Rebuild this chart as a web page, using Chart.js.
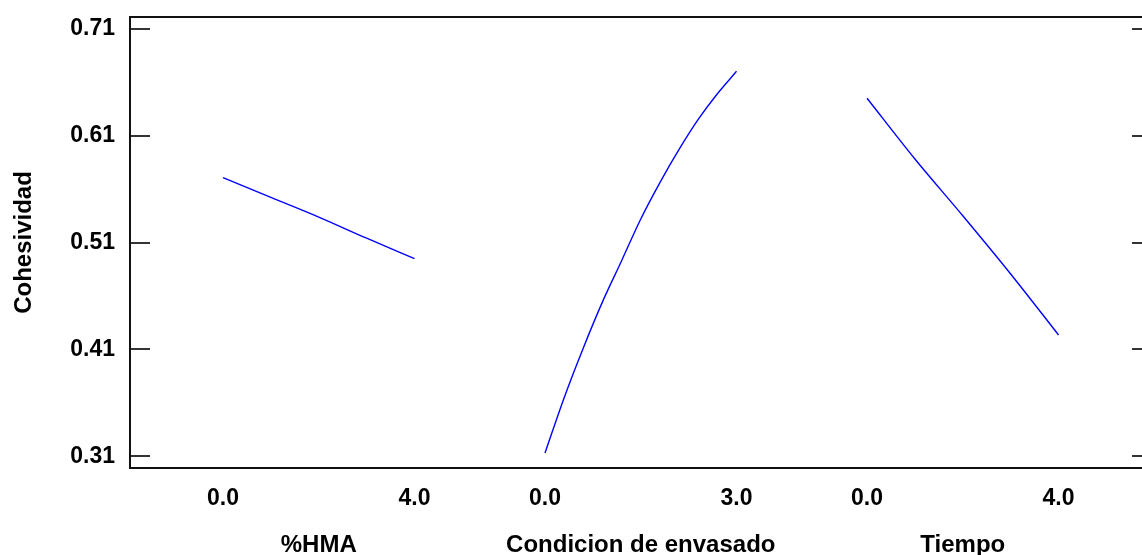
<!DOCTYPE html>
<html><head><meta charset="utf-8">
<script src="https://cdn.jsdelivr.net/npm/chart.js@4"></script>
<style>
html,body{margin:0;padding:0;background:#fff;overflow:hidden;width:1142px;height:555px}
#wrap{position:absolute;left:0;top:0;width:1160px;height:555px}
</style>
</head><body><div id="wrap"><canvas id="c"></canvas></div>
<script>
// ---- data ----
const factorNames = ['%HMA', 'Condicion de envasado', 'Tiempo'];
const lowLabels = ['0.0', '0.0', '0.0'];
const highLabels = ['4.0', '3.0', '4.0'];
const yTickValues = [0.31, 0.41, 0.51, 0.61, 0.71];

const hmaLevels = [0, 1, 2, 3, 4];
const hmaValues = [0.5706, 0.5522, 0.5338, 0.5140, 0.4949];

const condLevels = [0, 0.3, 0.6, 0.9, 1.2, 1.5, 1.8, 2.1, 2.4, 2.7, 3.0];
const condValues = [0.3133, 0.3650, 0.4115, 0.4545, 0.4930, 0.5320, 0.5660, 0.5970, 0.6250, 0.6490, 0.6700];

const tiempoLevels = [0, 1, 2, 3, 4];
const tiempoValues = [0.6448, 0.5880, 0.5350, 0.4806, 0.4236];

// ---- layout of the factor slots on the shared x scale ----
const groupStart = [0, 1.6815, 3.363];
const groupRange = [4, 3, 4];
const X_MIN = -0.4856, X_MAX = 4.851;
const Y_MIN = 0.29925, Y_MAX = 0.72075;

function toPoints(g, levels, values) {
  return levels.map((l, i) => ({ x: groupStart[g] + l / groupRange[g], y: values[i] }));
}

const xTickPos = [];
const xTickText = [];
for (let g = 0; g < 3; g++) {
  xTickPos.push(groupStart[g]); xTickText.push(lowLabels[g]);
  xTickPos.push(groupStart[g] + 1); xTickText.push(highLabels[g]);
}

const FONT = "'Liberation Sans', Arial, sans-serif";

const framePlugin = {
  id: 'frame',
  afterDraw(chart) {
    const { ctx, chartArea: a, scales } = chart;
    ctx.save();
    ctx.strokeStyle = '#333';
    ctx.lineWidth = 1.8;
    yTickValues.forEach(v => {
      const y = Math.round(scales.y.getPixelForValue(v));
      ctx.beginPath();
      ctx.moveTo(a.left, y); ctx.lineTo(a.left + 20, y);
      ctx.moveTo(a.right - 20, y); ctx.lineTo(a.right, y);
      ctx.stroke();
    });
    ctx.strokeStyle = '#111';
    ctx.lineWidth = 2;
    ctx.strokeRect(a.left, a.top, a.right - a.left, a.bottom - a.top);
    ctx.fillStyle = '#000';
    ctx.font = "bold 24px " + FONT;
    ctx.textAlign = 'center';
    ctx.textBaseline = 'alphabetic';
    factorNames.forEach((n, g) => {
      const x = scales.x.getPixelForValue(groupStart[g] + 0.5);
      ctx.fillText(n, x, 552);
    });
    ctx.restore();
  }
};

function zeroPad(s) { s.paddingTop = 0; s.paddingBottom = 0; s.paddingLeft = 0; s.paddingRight = 0; }

new Chart(document.getElementById('c'), {
  type: 'line',
  data: {
    datasets: [
      { data: toPoints(0, hmaLevels, hmaValues) },
      { data: toPoints(1, condLevels, condValues) },
      { data: toPoints(2, tiempoLevels, tiempoValues) }
    ].map(d => Object.assign(d, {
      borderColor: '#0000ff', borderWidth: 1.4, pointRadius: 0, fill: false,
      cubicInterpolationMode: 'monotone'
    }))
  },
  options: {
    responsive: true,
    maintainAspectRatio: false,
    devicePixelRatio: 1,
    animation: false,
    layout: { padding: { top: 17, right: 8, left: 0, bottom: 0 } },
    plugins: { legend: { display: false }, tooltip: { enabled: false } },
    scales: {
      x: {
        type: 'linear', min: X_MIN, max: X_MAX,
        grid: { display: false, drawTicks: false },
        border: { display: false },
        afterBuildTicks(s) { s.ticks = xTickPos.map(v => ({ value: v })); },
        afterFit(s) { s.height = 87; zeroPad(s); },
        ticks: {
          autoSkip: false, maxRotation: 0, padding: 17,
          color: '#000', font: { family: FONT, size: 23, weight: 'bold' },
          callback(v, i) { return xTickText[i]; }
        }
      },
      y: {
        type: 'linear', min: Y_MIN, max: Y_MAX,
        grid: { display: false, drawTicks: false },
        border: { display: false },
        afterBuildTicks(s) { s.ticks = yTickValues.map(v => ({ value: v })); },
        afterFit(s) { s.width = 130; zeroPad(s); },
        ticks: {
          padding: 15, color: '#000',
          font: { family: FONT, size: 23, weight: 'bold' },
          callback(v) { return Number(v).toFixed(2); }
        },
        title: {
          display: true, text: 'Cohesividad', color: '#000',
          font: { family: FONT, size: 24, weight: 'bold' },
          padding: { top: 10, bottom: 0 }
        }
      }
    }
  },
  plugins: [framePlugin]
});
</script>
</body></html>
